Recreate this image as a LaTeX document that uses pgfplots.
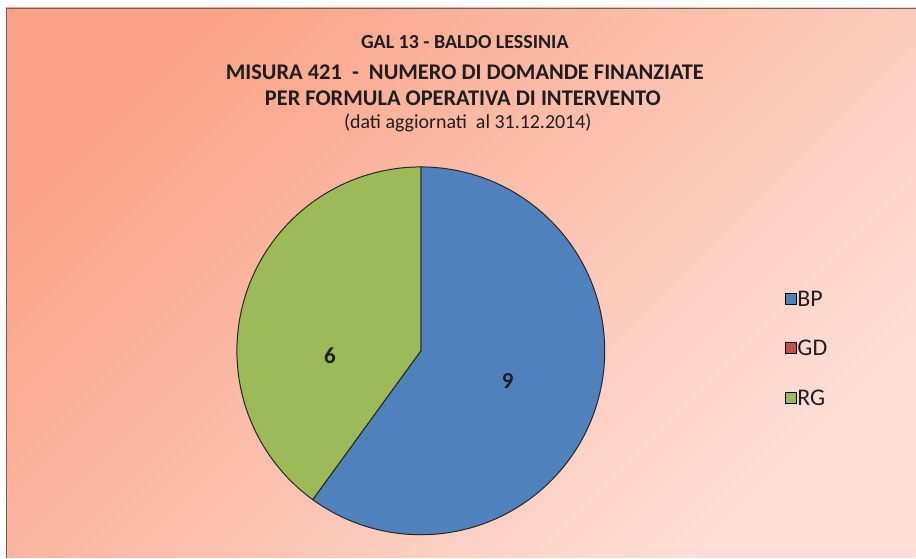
\documentclass[border=0pt]{standalone}
\usepackage{pgfplots}
\pgfplotsset{compat=1.18}
\usepackage{pgfplotstable}
\usepackage{fontspec}
\setmainfont{Carlito}
\definecolor{bp}{HTML}{4F81BD}
\definecolor{gd}{HTML}{C0504D}
\definecolor{rg}{HTML}{9BBB59}
\definecolor{bgA}{HTML}{FAA386}
\definecolor{bgB}{HTML}{FDDFD7}
\definecolor{txt}{HTML}{1E1E1E}
\pgfplotstableread{
cat val
BP 9
GD 0
RG 6
}\piedata
\pgfplotstablegetelem{0}{val}\of\piedata \let\vBP\pgfplotsretval
\pgfplotstablegetelem{1}{val}\of\piedata \let\vGD\pgfplotsretval
\pgfplotstablegetelem{2}{val}\of\piedata \let\vRG\pgfplotsretval
\pgfmathsetmacro\tot{\vBP+\vGD+\vRG}
\pgfmathsetmacro\aEndBP{90-360*\vBP/\tot}
\pgfmathsetmacro\aEndGD{\aEndBP-360*\vGD/\tot}
\pgfmathsetmacro\aEndRG{\aEndGD-360*\vRG/\tot}
\def\cx{421}\def\cy{207}\def\R{184}
\begin{document}
\begin{tikzpicture}
\begin{axis}[scale only axis, width=916bp, height=558bp,
  xmin=0, xmax=916, ymin=0, ymax=558, hide axis, clip=false,
  legend style={at={(axis cs:785,268)}, anchor=north west, draw=none, fill=none,
    font=\fontsize{24}{26}\selectfont\color{txt}, row sep=30.5bp,
    inner sep=0pt, outer sep=0pt, nodes={inner sep=1pt}},
  legend cell align=left,
  legend image code/.code={\draw[#1, draw=black, line width=0.8pt] (0bp,-5bp) rectangle (11bp,6bp);},
]
\fill[white] (axis cs:0,0) rectangle (axis cs:916,558);
\shade[top color=bgA, bottom color=bgB, shading angle=45] (axis cs:6,0) rectangle (axis cs:916,550);
\draw[gray!80!black, line width=0.8pt] (axis cs:6,0) -- (axis cs:6,550) -- (axis cs:916,550);
% pie wedges
\addplot[fill=bp, draw=black!85, line width=1pt, domain=\aEndBP:90, samples=120, forget plot]
  ({\cx+\R*cos(x)},{\cy+\R*sin(x)}) -- (axis cs:\cx,\cy) -- cycle;
\addplot[fill=rg, draw=black!85, line width=1pt, domain=\aEndRG:\aEndGD, samples=120, forget plot]
  ({\cx+\R*cos(x)},{\cy+\R*sin(x)}) -- (axis cs:\cx,\cy) -- cycle;
% value labels
\node[font=\bfseries\fontsize{23}{25}\selectfont, text=txt] at (axis cs:508,177) {\vBP};
\node[font=\bfseries\fontsize{23}{25}\selectfont, text=txt] at (axis cs:330,202) {\vRG};
% titles
\node[font=\bfseries\fontsize{20}{22}\selectfont, text=txt] at (axis cs:465,516) {GAL 13 - BALDO LESSINIA};
\node[font=\bfseries\fontsize{22.5}{24}\selectfont, text=txt] at (axis cs:465,486) {MISURA 421 \ - \ NUMERO DI DOMANDE FINANZIATE};
\node[font=\bfseries\fontsize{22.5}{24}\selectfont, text=txt] at (axis cs:463,460) {PER FORMULA OPERATIVA DI INTERVENTO};
\node[font=\fontsize{20}{22}\selectfont, text=txt] at (axis cs:468,435) {(dati aggiornati \ al 31.12.2014)};
% legend
\addlegendimage{fill=bp}
\addlegendentry{BP}
\addlegendimage{fill=gd}
\addlegendentry{GD}
\addlegendimage{fill=rg}
\addlegendentry{RG}
\end{axis}
\end{tikzpicture}
\end{document}
